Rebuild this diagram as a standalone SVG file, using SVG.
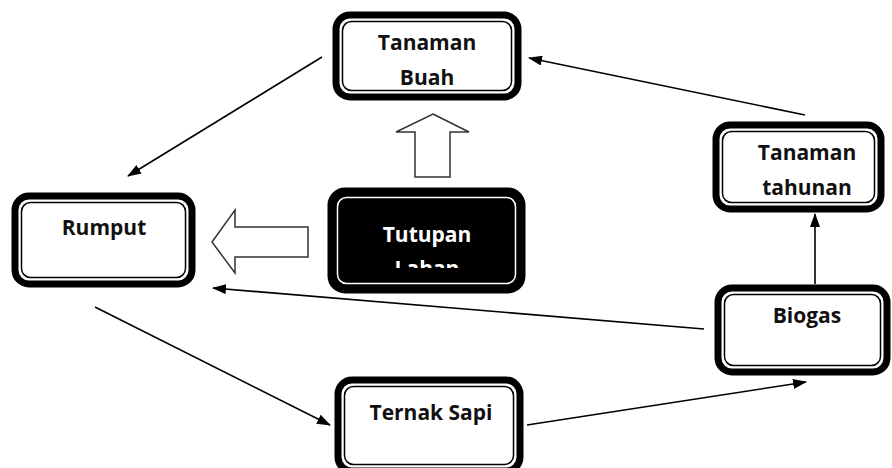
<svg xmlns="http://www.w3.org/2000/svg" width="892" height="468" viewBox="0 0 892 468">
<defs>
<style>
.outer{fill:#fff;stroke:#000;stroke-width:7}
.inner{fill:none;stroke:#000;stroke-width:1.5}
.dark{fill:#000;stroke:#000;stroke-width:7}
.dinner{fill:none;stroke:#fff;stroke-width:1.5}
.lbl{font-family:"Open Sans","Noto Sans",sans-serif;font-weight:bold;font-size:21px;fill:#111;text-anchor:middle}
.wlbl{font-family:"Open Sans","Noto Sans",sans-serif;font-weight:bold;font-size:21px;fill:#fff;text-anchor:middle}
.conn{stroke:#000;stroke-width:1.6;fill:none;marker-end:url(#ah)}
.hollow{fill:#fff;stroke:#333;stroke-width:1.5;stroke-linejoin:miter}
</style>
<marker id="ah" markerWidth="14" markerHeight="10" refX="13" refY="5" orient="auto" markerUnits="userSpaceOnUse">
<path d="M0,0 L14,5 L0,10 Z" fill="#000"/>
</marker>
<clipPath id="clipT"><rect x="331" y="191" width="191" height="77"/></clipPath>
</defs>
<rect width="892" height="468" fill="#fff"/>

<g id="connectors">
<line class="conn" x1="322" y1="57" x2="128" y2="176"/>
<line class="conn" x1="805" y1="115" x2="529" y2="58"/>
<line class="conn" x1="815" y1="284" x2="815" y2="214"/>
<line class="conn" x1="704" y1="329" x2="213" y2="288"/>
<line class="conn" x1="95" y1="307" x2="330" y2="425"/>
<line class="conn" x1="527" y1="425" x2="806" y2="382"/>
<path class="hollow" d="M212,242 L235,210 L235,227 L308,227 L308,257 L235,257 L235,273 Z"/>
<path class="hollow" d="M433,114 L469,132 L450,132 L450,177 L415,177 L415,132 L396,132 Z"/>
</g>

<g id="tanaman-buah">
<rect class="outer" x="336" y="15" width="182" height="82" rx="14"/>
<rect class="inner" x="342.5" y="21.5" width="169" height="69" rx="9"/>
<text class="lbl" x="427" y="50">Tanaman</text>
<text class="lbl" x="427" y="85">Buah</text>
</g>

<g id="tanaman-tahunan">
<rect class="outer" x="716" y="125" width="165" height="84" rx="14"/>
<rect class="inner" x="722.5" y="131.5" width="152" height="71" rx="9"/>
<text class="lbl" x="807" y="160">Tanaman</text>
<text class="lbl" x="807" y="195">tahunan</text>
</g>

<g id="rumput">
<rect class="outer" x="15" y="196" width="177" height="88" rx="14"/>
<rect class="inner" x="21.5" y="202.5" width="164" height="75" rx="9"/>
<text class="lbl" x="104" y="235">Rumput</text>
</g>

<g id="tutupan-lahan">
<rect class="dark" x="331" y="191" width="191" height="99" rx="14"/>
<rect class="dinner" x="337.5" y="197.5" width="178" height="86" rx="9"/>
<g clip-path="url(#clipT)">
<text class="wlbl" x="427" y="242">Tutupan</text>
<text class="wlbl" x="427" y="276">Lahan</text>
</g>
</g>

<g id="biogas">
<rect class="outer" x="718" y="288" width="169" height="84" rx="14"/>
<rect class="inner" x="724.5" y="294.5" width="156" height="71" rx="9"/>
<text class="lbl" x="807" y="323">Biogas</text>
</g>

<g id="ternak-sapi">
<rect class="outer" x="338" y="380" width="182" height="91" rx="14"/>
<rect class="inner" x="344.5" y="386.5" width="169" height="78" rx="9"/>
<text class="lbl" x="431" y="420">Ternak Sapi</text>
</g>
</svg>
